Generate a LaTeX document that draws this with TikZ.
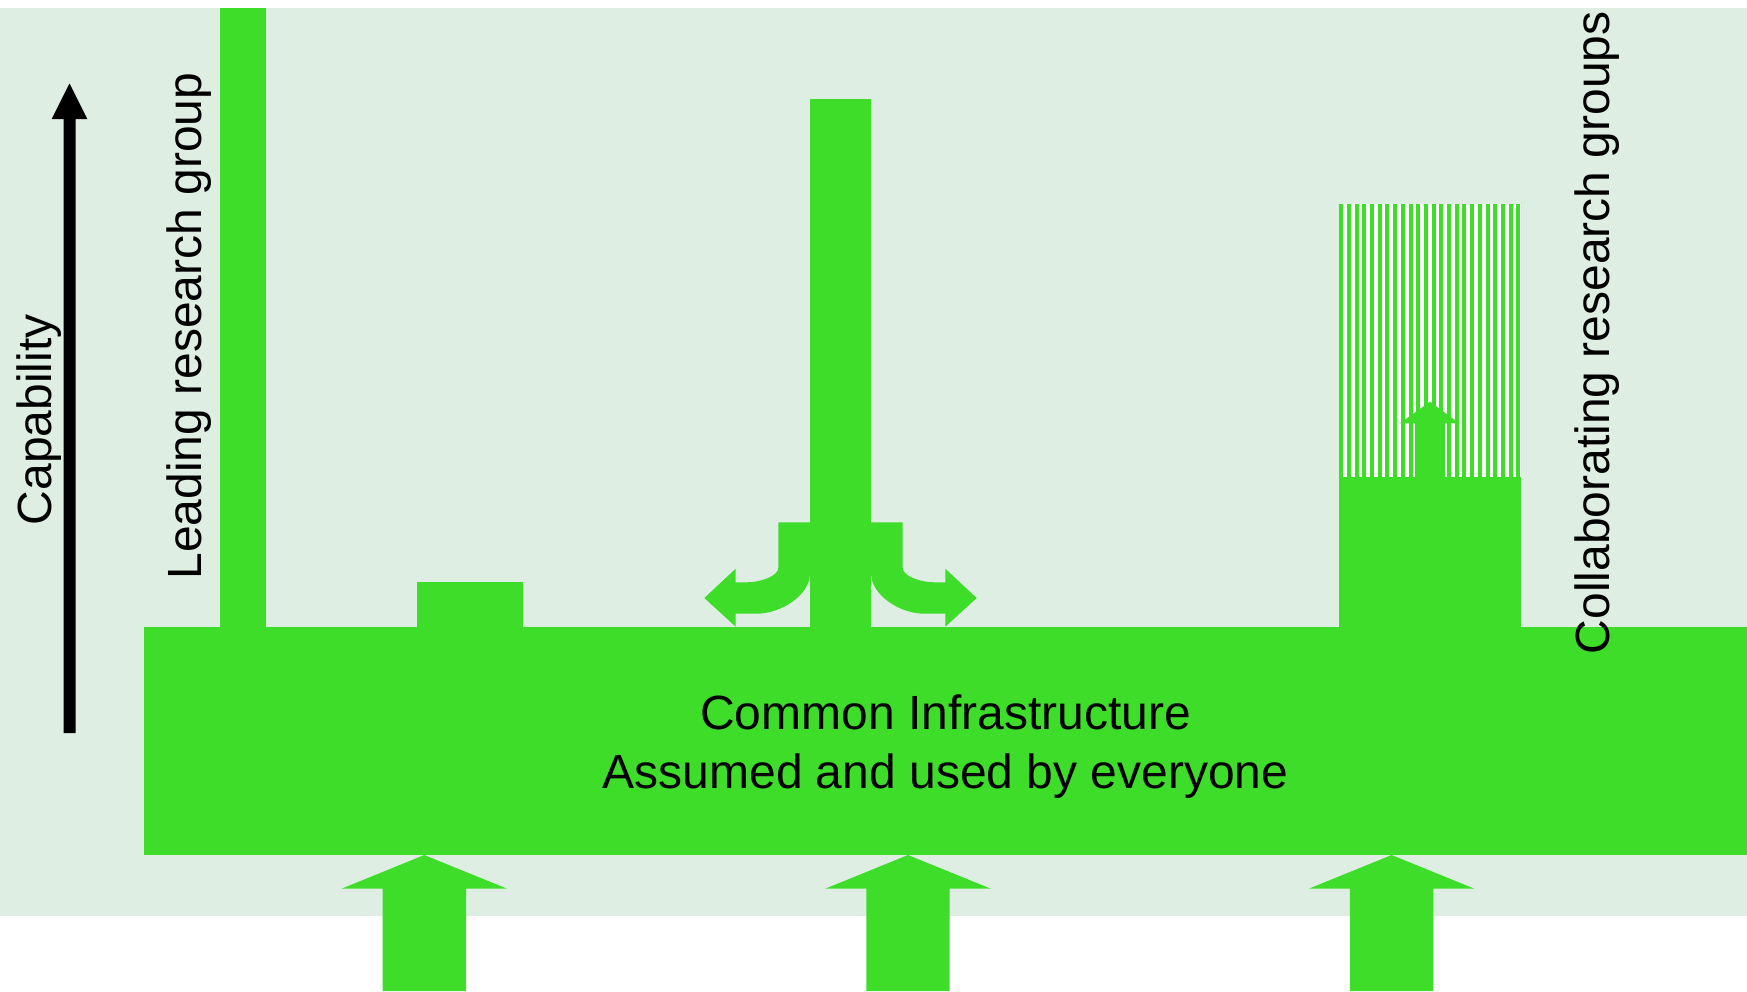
\documentclass[tikz,border=0pt]{standalone}
\usepackage{fontspec}
\setmainfont{Liberation Sans}
\definecolor{grn}{RGB}{62,221,42}
\definecolor{bgc}{RGB}{222,238,227}
\begin{document}
\begin{tikzpicture}[x=1pt,y=-1pt,
  greenfill/.style={fill=grn},
  lbl/.style={font=\fontsize{48}{57}\selectfont, inner sep=0pt, text=black}]
\useasboundingbox (0,0) rectangle (1747,991);
\fill[white] (0,0) rectangle (1747,991);
\fill[bgc] (0,8) rectangle (1747,916);
% common infrastructure bar
\fill[greenfill] (144,627) rectangle (1747,855);
% leading research group bar
\fill[greenfill] (220,8) rectangle (266,627);
% small block
\fill[greenfill] (417,582) rectangle (523,627);
% middle bar
\fill[greenfill] (810,99) rectangle (871,627);
% curved arrows
\fill[greenfill] (778.3,522.3) -- (810,522.3) -- (810,573) .. controls (810,595.5) and (780.6,613.7) .. (756.7,613.7) -- (735.7,613.7) -- (735.7,626.7) -- (704.3,598) -- (735.7,568.7) -- (735.7,582.3) -- (746.7,582.3) .. controls (760.9,582.3) and (778.3,575.9) .. (778.3,568) -- cycle;
\fill[greenfill] (902.7,522.3) -- (871,522.3) -- (871,573) .. controls (871,595.5) and (900.4,613.7) .. (924.3,613.7) -- (945.3,613.7) -- (945.3,626.7) -- (976.7,598) -- (945.3,568.7) -- (945.3,582.3) -- (934.3,582.3) .. controls (920.1,582.3) and (902.7,575.9) .. (902.7,568) -- cycle;
% collaborating block
\fill[greenfill] (1339,477) rectangle (1521,627);
\fill[white] (1339,204) rectangle (1521,477);
\foreach \i in {0,...,23} \fill[greenfill] ({1339.3+\i*7.696},204) rectangle +(4,273);
\fill[greenfill] (1415,477) -- (1415,423.3) -- (1400,423.3) -- (1430,401.7) -- (1459.3,423.3) -- (1445,423.3) -- (1445,477) -- cycle;
% bottom arrows
\foreach \c in {424.3,908,1391.6}
  \fill[greenfill] ({\c-41.7},991) -- ({\c-41.7},888.7) -- ({\c-82.8},888.7) -- (\c,855) -- ({\c+82.8},888.7) -- ({\c+41.7},888.7) -- ({\c+41.7},991) -- cycle;
% capability arrow
\fill[black] (63.5,733) -- (75.5,733) -- (75.5,119) -- (87.3,119) -- (69.5,83.5) -- (51.7,119) -- (63.5,119) -- cycle;
% texts
\node[lbl, rotate=90, anchor=base] (cap) at (51,419.7) {Capability};
\node[lbl, rotate=90, anchor=base] (lead) at (201.7,326) {Leading research group};
\node[lbl, rotate=90, anchor=base] (collab) at (1609,332.7) {Collaborating research groups};
\node[lbl, anchor=base] (common) at (945.5,729) {Common Infrastructure};
\node[lbl, anchor=base] (assumed) at (945.5,788) {Assumed and used by everyone};
\end{tikzpicture}
\end{document}
